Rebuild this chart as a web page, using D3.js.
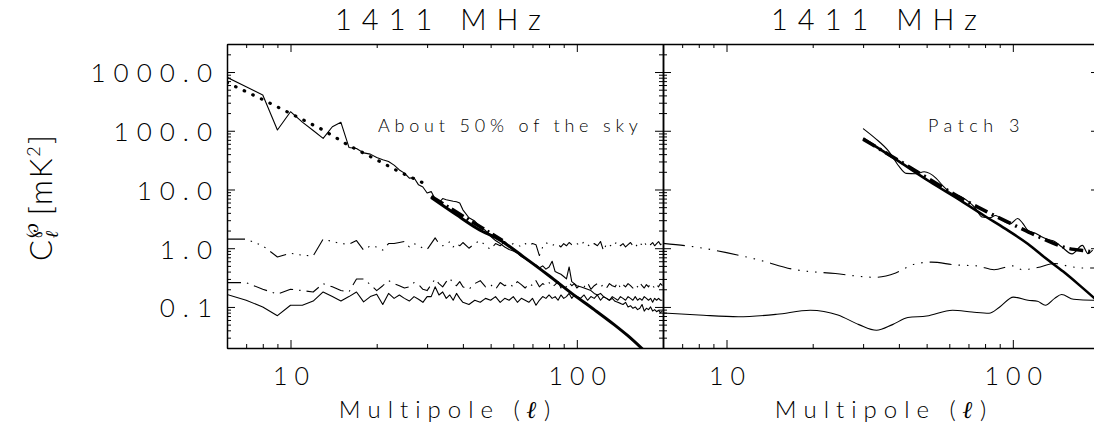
<!DOCTYPE html>
<html>
<head>
<meta charset="utf-8">
<script src="https://cdn.jsdelivr.net/npm/d3@7"></script>
<style>
body { margin: 0; background: #fff; }
text { font-family: Lato, "DejaVu Sans", sans-serif; font-weight: 300; fill: #000; }
</style>
</head>
<body>
<div id="chart"></div>
<script>
// Angular power spectra at 1411 MHz, two panels (full sky ~50% and Patch 3)

// --- left panel: shared multipole grid for the noisy spectra
const ellLeft = [6,7,8,9,10,11,12,13,14,15,16,17,18,19,20,21,22,23,24,25,26,27,28,29,30,31,32,33,34,35,36,37,38,39,40,
  42,44,46,48,50,52,54,56,58,60,62,64,66,68,70,72,74,76,78,80,82,84,86,88,90,92,94,96,98,100,
  103,106,109,112,115,118,121,124,127,130,133,136,139,142,145,148,151,154,157,160,163,166,169,172,175,178,181,184,187,190,193,196,199];

const leftTotal = [812,560,406,103,211,140,101,74,117,139,52,50,42,40,35,32,30,26,21.5,19,15.6,15.8,12,11,8.7,9.2,6.9,5.9,7.0,6.7,6.5,6.3,6.2,5.9,4.5,
  3.3,2.9,2.3,2.0,1.6,1.35,1.2,1.05,0.95,0.9,0.83,0.72,0.66,0.6,0.55,0.52,0.46,0.5,0.44,0.48,0.6,0.4,0.38,0.36,0.33,0.3,0.48,0.27,0.25,0.23,
  0.22,0.21,0.2,0.19,0.17,0.16,0.17,0.15,0.14,0.13,0.14,0.125,0.12,0.115,0.11,0.12,0.1,0.105,0.095,0.1,0.09,0.095,0.11,0.085,0.095,0.09,0.1,0.085,0.09,0.083,0.088,0.08,0.085];

const leftDash3 = [1.43,1.43,1.1,0.71,0.82,0.76,0.74,1.43,1.3,1.2,1.17,1.35,0.93,1.1,1.05,0.93,1.2,1.2,1.25,1.3,1.05,1.2,1.1,1.0,0.95,1.2,1.5,1.2,1.1,1.15,1.3,1.05,1.2,1.1,1.25,
  1.0,1.2,1.35,1.1,0.95,1.2,1.1,1.3,1.1,1.2,1.15,1.05,1.2,1.1,1.2,1.15,0.75,1.05,1.25,1.15,1.1,1.2,1.15,1.05,1.2,1.1,1.25,1.15,1.1,1.2,
  1.1,1.3,1.15,1.05,1.2,1.1,1.3,0.9,1.2,1.15,1.05,1.2,1.3,1.1,1.2,1.05,1.15,1.25,1.1,1.2,1.05,1.2,1.15,1.3,1.1,1.2,1.15,1.25,1.1,1.2,1.3,1.15,1.2];

const leftDashDot = [0.26,0.26,0.2,0.166,0.2,0.19,0.18,0.25,0.22,0.19,0.18,0.3,0.3,0.24,0.19,0.23,0.28,0.25,0.23,0.21,0.22,0.26,0.24,0.2,0.19,0.24,0.3,0.25,0.22,0.27,0.31,0.25,0.23,0.27,0.22,
  0.2,0.25,0.28,0.22,0.24,0.2,0.26,0.23,0.25,0.22,0.27,0.24,0.21,0.25,0.23,0.28,0.22,0.25,0.23,0.26,0.22,0.24,0.27,0.21,0.24,0.22,0.26,0.23,0.25,0.21,
  0.24,0.22,0.26,0.2,0.23,0.25,0.22,0.24,0.21,0.25,0.23,0.22,0.26,0.21,0.24,0.22,0.25,0.23,0.21,0.24,0.22,0.26,0.23,0.21,0.24,0.22,0.25,0.23,0.21,0.24,0.22,0.25,0.23];

const leftNoise = [0.163,0.13,0.1,0.071,0.107,0.107,0.126,0.18,0.15,0.126,0.15,0.18,0.122,0.15,0.165,0.11,0.17,0.14,0.16,0.14,0.126,0.15,0.135,0.12,0.15,0.15,0.22,0.16,0.18,0.14,0.16,0.13,0.17,0.14,0.12,
  0.11,0.13,0.12,0.14,0.13,0.15,0.12,0.14,0.13,0.15,0.12,0.14,0.13,0.12,0.14,0.107,0.13,0.15,0.14,0.16,0.14,0.15,0.13,0.16,0.14,0.15,0.17,0.14,0.16,0.15,
  0.14,0.16,0.13,0.15,0.14,0.16,0.13,0.15,0.14,0.13,0.15,0.14,0.13,0.15,0.14,0.13,0.15,0.14,0.13,0.15,0.13,0.14,0.13,0.15,0.14,0.13,0.14,0.12,0.14,0.13,0.14,0.13,0.13];

// low-l power-law fit (dotted), model (thick), high-l fit (thick dash-dot)
const leftFitEll = [6,8,10,13,16,20,24,29];
const leftFit = [660,340,197,103,56,32,20,13];
const leftModelEll = [31,38,45,54,65,80,96,115,135,150,170];
const leftModel = [7.3,3.7,2.15,1.37,0.72,0.34,0.17,0.09,0.05,0.033,0.019];
const leftHiFitEll = [31,55];
const leftHiFit = [7.6,1.35];

// --- right panel (Patch 3), smooth spectra
const rightDataEll = [30,33,37,40,42.4,46,49,54,57,60,66,70,74,78,83,87,94,98,104,108,113,120,126,133,140,148,161,175,183,190];
const rightData = [109,75,43.8,25,18.8,18.5,20,15.5,11.5,9.1,7.5,6.2,4.8,3.4,3.3,3.6,2.8,2.6,3.2,2.7,2.0,1.8,1.57,1.4,1.3,1.06,0.8,1.12,0.81,0.93];
const rightModelEll = [30,40,51,66,80,94,113,130,150,170,200];
const rightModel = [74,30,13.8,6.4,3.5,2.15,1.18,0.68,0.4,0.24,0.12];
const rightFitEll = [30,40,50,66,81,100,123,153,188,200];
const rightFit = [72,31,16,7.1,4.2,2.54,1.57,1.02,0.87,0.82];
const rightDash3Ell = [6,8,10,13,17,24,33,39,45,52,63,75,86,100,108,122,140,155,175,200];
const rightDash3 = [1.21,1.03,0.84,0.63,0.44,0.37,0.32,0.38,0.53,0.58,0.52,0.5,0.43,0.5,0.43,0.47,0.55,0.5,0.46,0.46];
const rightNoiseEll = [6,8,11,15,19.6,24.5,29,33.4,38,43,50,61.6,72,82.6,90,100.5,113,122,130,140,148,163,190,200];
const rightNoise = [0.079,0.073,0.068,0.075,0.088,0.073,0.05,0.04,0.05,0.066,0.07,0.088,0.082,0.078,0.1,0.147,0.13,0.125,0.107,0.14,0.163,0.135,0.13,0.13];

// axis labels
const xMajor = [10, 100];
const yMajor = [0.1, 1, 10, 100, 1000];
const titleText = "1411 MHz";

// Chart dimensions
const width = 1094;
const height = 433;
const plotTop = 44, plotBottom = 348;

const svg = d3.select("#chart")
    .append("svg")
    .attr("width", width)
    .attr("height", height);

const y = d3.scaleLog().domain([0.02, 3000]).range([plotBottom, plotTop]);
const xLeft = d3.scaleLog().domain([6, 200]).range([227, 663]);
const xRight = d3.scaleLog().domain([6, 200]).range([663, 1099]);

const yMinor = y.ticks().filter(v => !yMajor.some(m => Math.abs(v - m) / m < 1e-6));

function drawAxes(x, showYLabels) {
    const [x0, x1] = x.range();
    const xMinor = x.ticks().filter(v => !xMajor.includes(v));
    const g = svg.append("g");

    // minor ticks on all four sides
    [
        [d3.axisBottom(x), `translate(0,${plotBottom})`, xMinor],
        [d3.axisTop(x), `translate(0,${plotTop})`, xMinor],
        [d3.axisLeft(y), `translate(${x0},0)`, yMinor],
        [d3.axisRight(y), `translate(${x1},0)`, yMinor]
    ].forEach(([axis, tr, minor]) => {
        g.append("g").attr("transform", tr)
            .call(axis.tickValues(minor).tickSize(-4).tickSizeOuter(0).tickFormat(""))
            .call(s => s.select(".domain").remove());
    });

    // major ticks + box lines
    const bx = g.append("g").attr("transform", `translate(0,${plotBottom})`)
        .call(d3.axisBottom(x).tickValues(xMajor).tickSize(-8).tickSizeOuter(0)
            .tickFormat(d3.format("d")).tickPadding(19));
    bx.attr("font-size", 25).attr("font-family", null);
    bx.selectAll("text").attr("letter-spacing", 7).attr("dx", 3.5);

    g.append("g").attr("transform", `translate(0,${plotTop})`)
        .call(d3.axisTop(x).tickValues(xMajor).tickSize(-8).tickSizeOuter(0).tickFormat(""));

    const ly = g.append("g").attr("transform", `translate(${x0},0)`)
        .call(d3.axisLeft(y).tickValues(yMajor).tickSize(-8).tickSizeOuter(0)
            .tickFormat(showYLabels ? d3.format(".1f") : "").tickPadding(7));
    ly.attr("font-size", 26).attr("font-family", null);
    ly.selectAll("text").attr("letter-spacing", 8).attr("dy", "0.38em");

    g.append("g").attr("transform", `translate(${x1},0)`)
        .call(d3.axisRight(y).tickValues(yMajor).tickSize(-8).tickSizeOuter(0).tickFormat(""));

    g.selectAll(".domain").attr("stroke-width", 1.5);

    // panel title and x label
    const cx = (x0 + x1) / 2;
    svg.append("text")
        .attr("x", cx - 2).attr("y", 30)
        .attr("text-anchor", "middle")
        .attr("font-size", 29)
        .attr("letter-spacing", 10)
        .text(titleText);

    const xl = svg.append("text")
        .attr("x", cx + 3).attr("y", 418)
        .attr("text-anchor", "middle")
        .attr("font-size", 24)
        .attr("letter-spacing", 7);
    xl.append("tspan").text("Multipole (");
    xl.append("tspan").style("font-family", "'DejaVu Serif'").style("font-style", "italic")
        .style("font-weight", "bold").text("ℓ");
    xl.append("tspan").text(")");
}

function panel(x, id) {
    const [x0, x1] = x.range();
    svg.append("clipPath").attr("id", id)
        .append("rect").attr("x", x0).attr("y", plotTop).attr("width", x1 - x0).attr("height", plotBottom - plotTop);
    const g = svg.append("g").attr("clip-path", `url(#${id})`);
    const line = (curve) => d3.line().x(d => x(d[0])).y(d => y(d[1])).curve(curve || d3.curveLinear);
    return (ells, vals, style, curve) => {
        const p = g.append("path")
            .datum(d3.zip(ells, vals))
            .attr("d", line(curve))
            .attr("fill", "none")
            .attr("stroke", "#000")
            .attr("stroke-width", style.w || 1.1)
            .attr("stroke-linejoin", "round");
        if (style.dash) p.attr("stroke-dasharray", style.dash);
        if (style.cap) p.attr("stroke-linecap", style.cap);
        return p;
    };
}

const dash3 = "18,6,1.5,6,1.5,6,1.5,6";
const dashDot = "14,6,1.5,6";

// left panel
const L = panel(xLeft, "clipL");
L(ellLeft, leftDash3, {dash: dash3});
L(ellLeft, leftDashDot, {dash: dashDot});
L(ellLeft, leftNoise, {});
L(ellLeft, leftTotal, {});
L(leftFitEll, leftFit, {w: 3.2, dash: "0.5,9", cap: "round"});
L(leftModelEll, leftModel, {w: 3}, d3.curveMonotoneX);
L(leftHiFitEll, leftHiFit, {w: 3.5, dash: "14,4,2,4"});

// right panel
const R = panel(xRight, "clipR");
R(rightDash3Ell, rightDash3, {dash: "22,7,1.5,7,1.5,7,1.5,7"}, d3.curveMonotoneX);
R(rightNoiseEll, rightNoise, {}, d3.curveMonotoneX);
R(rightModelEll, rightModel, {w: 2.6}, d3.curveMonotoneX);
R(rightFitEll, rightFit, {w: 3.5, dash: "14,5,2,5"}, d3.curveMonotoneX);
R(rightDataEll, rightData, {}, d3.curveMonotoneX);

drawAxes(xLeft, true);
drawAxes(xRight, false);

// annotations
svg.append("text").attr("x", 378).attr("y", 132)
    .attr("font-size", 18)
    .attr("letter-spacing", 4.8)
    .text("About 50% of the sky");
svg.append("text").attr("x", 928).attr("y", 132)
    .attr("font-size", 18)
    .attr("letter-spacing", 5.5)
    .text("Patch 3");

// y title (rotated)
const yt = svg.append("text")
    .attr("transform", "translate(52,197) rotate(-90)")
    .attr("text-anchor", "middle")
    .attr("font-size", 31)
    .attr("letter-spacing", 2);
yt.append("tspan").text("C");
yt.append("tspan").attr("font-size", 18).attr("dy", 6)
    .style("font-family", "'DejaVu Serif'").style("font-style", "italic").style("font-weight", "bold").text("ℓ");
yt.append("tspan").attr("font-size", 18).attr("dy", -20).attr("dx", -10).text("℘");
yt.append("tspan").attr("dy", 14).attr("dx", 6).text("[mK");
yt.append("tspan").attr("font-size", 18).attr("dy", -12).text("2");
yt.append("tspan").attr("dy", 12).text("]");
</script>
</body>
</html>
